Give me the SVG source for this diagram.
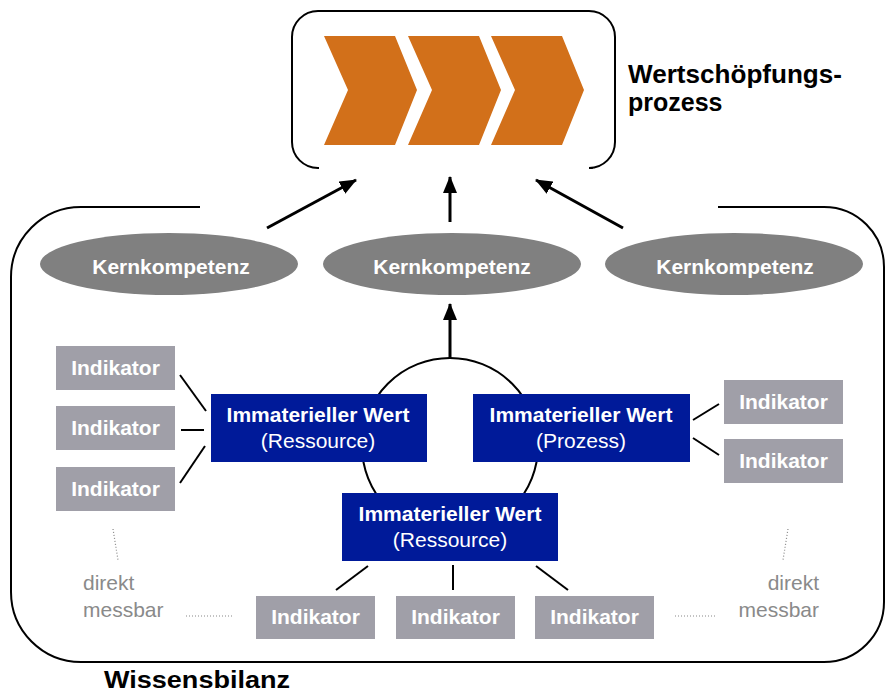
<svg xmlns="http://www.w3.org/2000/svg" width="886" height="694" viewBox="0 0 886 694">
<style>
  .frame{fill:none;stroke:#000;stroke-width:2}
  .chev{fill:#D2701A}
  .kk{fill:#808080}
  .ind{fill:#A09FA8}
  .iw{fill:#001A99}
  .t{font-family:"Liberation Sans",Arial,sans-serif;fill:#fff;text-anchor:middle}
  .b{font-weight:bold}
  .h{font-family:"Liberation Sans",Arial,sans-serif;font-weight:bold;fill:#000}
  .g{font-family:"Liberation Sans",Arial,sans-serif;fill:#8a8a8a;font-size:21px}
  .arr{stroke:#000;stroke-width:3;fill:none}
  .ln{stroke:#000;stroke-width:2;fill:none}
  .dot{stroke:#888;stroke-width:1.2;stroke-dasharray:1 2;fill:none}
</style>
<defs>
  <marker id="ah" markerUnits="userSpaceOnUse" markerWidth="18" markerHeight="14" refX="16" refY="7" orient="auto">
    <path d="M0,0 L17,7 L0,14 z" fill="#000"/>
  </marker>
</defs>

<g id="wertschoepfungsprozess">
  <path class="frame" d="M319,168 H318 A26,26 0 0 1 292,142 V37 A26,26 0 0 1 318,11 H589 A26,26 0 0 1 615,37 V142 A26,26 0 0 1 589,168 H593"/>
  <polygon class="chev" points="324,36 395,36 417,90 395,145 324,145 348,90"/>
  <polygon class="chev" points="408,36 479,36 501,90 479,145 408,145 432,90"/>
  <polygon class="chev" points="491,36 562,36 584,90 562,145 491,145 515,90"/>
  <text class="h" x="628" y="83" font-size="25" textLength="214" lengthAdjust="spacingAndGlyphs">Wertschöpfungs-</text>
  <text class="h" x="628" y="111" font-size="25">prozess</text>
</g>

<g id="wissensbilanz">
  <path class="frame" d="M200,207 H81 A70,70 0 0 0 11,277 V592 A70,70 0 0 0 81,662 H824 A60,60 0 0 0 884,602 V267 A60,60 0 0 0 824,207 H718"/>
  <text class="h" x="104" y="688" font-size="23" textLength="186" lengthAdjust="spacingAndGlyphs">Wissensbilanz</text>
</g>

<g id="connectors">
  <line class="arr" x1="267" y1="228" x2="356" y2="180" marker-end="url(#ah)"/>
  <line class="arr" x1="450" y1="222" x2="450" y2="177" marker-end="url(#ah)"/>
  <line class="arr" x1="623" y1="228" x2="536" y2="180" marker-end="url(#ah)"/>
  <line class="arr" x1="450" y1="358" x2="450" y2="304" marker-end="url(#ah)"/>
  <circle class="ln" cx="450" cy="446" r="88"/>
  <line class="ln" x1="180" y1="375" x2="206" y2="411"/>
  <line class="ln" x1="181" y1="430" x2="204" y2="430"/>
  <line class="ln" x1="180" y1="483" x2="205" y2="446"/>
  <line class="ln" x1="693" y1="420" x2="719" y2="404"/>
  <line class="ln" x1="693" y1="438" x2="719" y2="455"/>
  <line class="ln" x1="368" y1="566" x2="336" y2="590"/>
  <line class="ln" x1="453" y1="565" x2="453" y2="590"/>
  <line class="ln" x1="536" y1="566" x2="568" y2="590"/>
  <line class="dot" x1="113" y1="529" x2="118" y2="560"/>
  <line class="dot" x1="788" y1="529" x2="783" y2="560"/>
  <line class="dot" x1="186" y1="616" x2="232" y2="616"/>
  <line class="dot" x1="675" y1="616" x2="716" y2="616"/>
</g>

<g id="kernkompetenz-1">
  <ellipse class="kk" cx="169" cy="264" rx="129" ry="31"/>
  <text class="t b" x="171" y="274" font-size="21">Kernkompetenz</text>
</g>
<g id="kernkompetenz-2">
  <ellipse class="kk" cx="452" cy="264" rx="129" ry="31"/>
  <text class="t b" x="452" y="274" font-size="21">Kernkompetenz</text>
</g>
<g id="kernkompetenz-3">
  <ellipse class="kk" cx="734" cy="264" rx="129" ry="31"/>
  <text class="t b" x="735" y="274" font-size="21">Kernkompetenz</text>
</g>

<g id="wert-ressource-links">
  <rect class="iw" x="211" y="394" width="216" height="68"/>
  <text class="t b" x="318" y="422" font-size="21">Immaterieller Wert</text>
  <text class="t" x="318" y="448" font-size="21">(Ressource)</text>
</g>
<g id="wert-prozess">
  <rect class="iw" x="473" y="394" width="217" height="68"/>
  <text class="t b" x="581" y="422" font-size="21">Immaterieller Wert</text>
  <text class="t" x="581" y="448" font-size="21">(Prozess)</text>
</g>
<g id="wert-ressource-unten">
  <rect class="iw" x="342" y="493" width="216" height="68"/>
  <text class="t b" x="450" y="521" font-size="21">Immaterieller Wert</text>
  <text class="t" x="450" y="547" font-size="21">(Ressource)</text>
</g>

<g id="indikator-l1"><rect class="ind" x="56" y="346" width="119" height="44"/><text class="t b" x="115.5" y="375" font-size="21">Indikator</text></g>
<g id="indikator-l2"><rect class="ind" x="56" y="406" width="119" height="44"/><text class="t b" x="115.5" y="435" font-size="21">Indikator</text></g>
<g id="indikator-l3"><rect class="ind" x="56" y="467" width="119" height="44"/><text class="t b" x="115.5" y="496" font-size="21">Indikator</text></g>
<g id="indikator-r1"><rect class="ind" x="724" y="380" width="119" height="44"/><text class="t b" x="783.5" y="409" font-size="21">Indikator</text></g>
<g id="indikator-r2"><rect class="ind" x="724" y="439" width="119" height="44"/><text class="t b" x="783.5" y="468" font-size="21">Indikator</text></g>
<g id="indikator-u1"><rect class="ind" x="256" y="596" width="119" height="43"/><text class="t b" x="315.5" y="624" font-size="21">Indikator</text></g>
<g id="indikator-u2"><rect class="ind" x="396" y="596" width="119" height="43"/><text class="t b" x="455.5" y="624" font-size="21">Indikator</text></g>
<g id="indikator-u3"><rect class="ind" x="535" y="596" width="119" height="43"/><text class="t b" x="594.5" y="624" font-size="21">Indikator</text></g>

<g id="direkt-messbar-links">
  <text class="g" x="83" y="590">direkt</text>
  <text class="g" x="83" y="617">messbar</text>
</g>
<g id="direkt-messbar-rechts">
  <text class="g" x="819" y="590" text-anchor="end">direkt</text>
  <text class="g" x="819" y="617" text-anchor="end">messbar</text>
</g>
</svg>
